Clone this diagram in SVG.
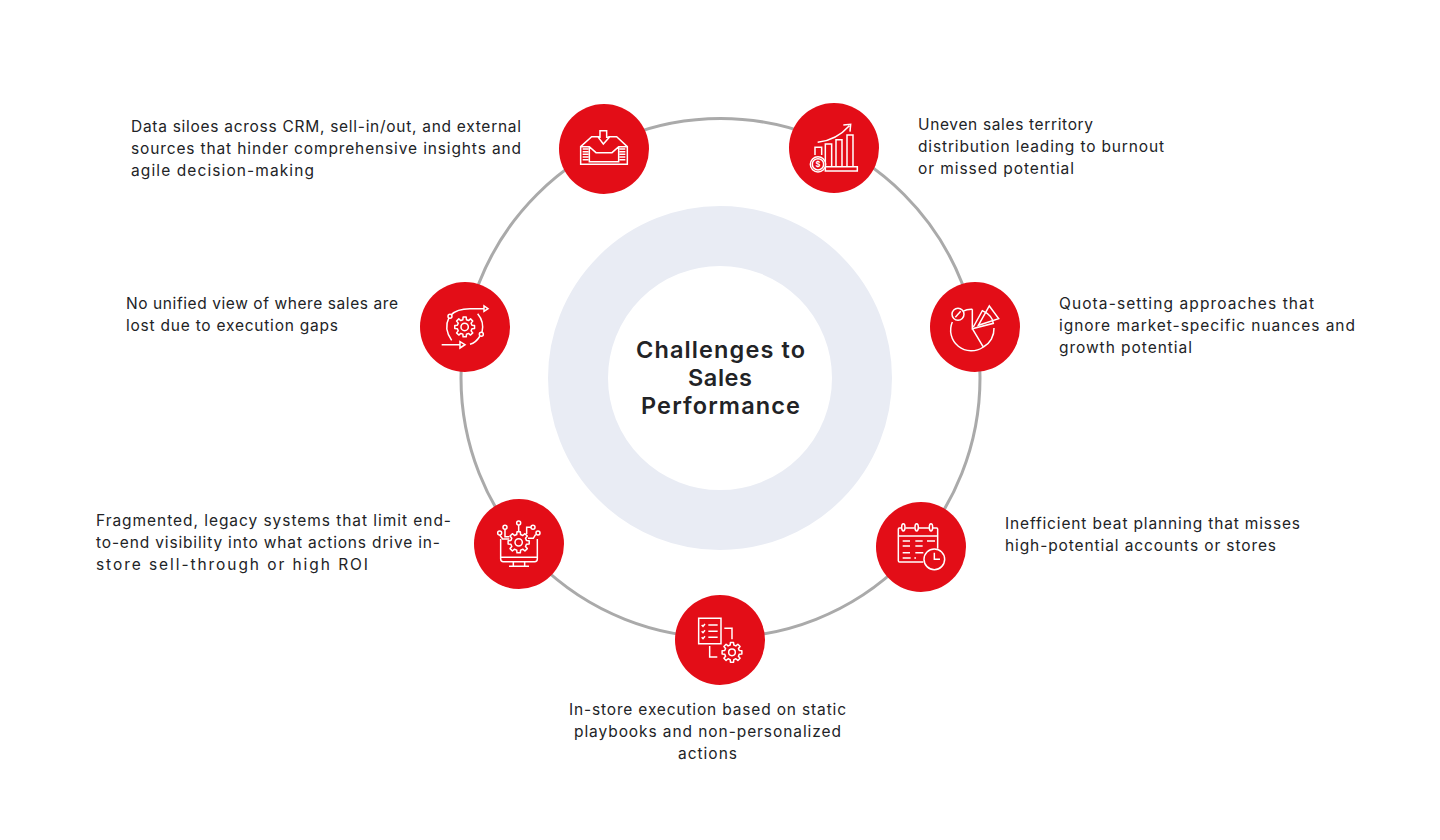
<svg xmlns="http://www.w3.org/2000/svg" xmlns:xlink="http://www.w3.org/1999/xlink" width="1440" height="840" viewBox="0 0 1440 840">
<style>
text{font-family:"Inter","Liberation Sans",sans-serif;font-size:15.5px;fill:#222326;lengthAdjust:spacing}
.t{font-size:23.5px;font-weight:600;text-anchor:middle}
.b{fill:#e30d17}
.i{fill:none;stroke:#fff;stroke-width:1.5;stroke-linecap:butt;stroke-linejoin:miter}
.i *,.g{vector-effect:non-scaling-stroke}
.g{stroke-linejoin:round}
.w{fill:#fff;stroke:none}
.r{fill:#e30d17}
.d{font-weight:700;font-size:13px;fill:#fff;stroke:none;text-anchor:middle}
</style>
<defs>
<path id="gear" class="g" d="M7.28-1.81L9.88-1.56V1.56L7.28 1.81L6.43 3.86L8.09 5.88L5.88 8.09L3.86 6.43L1.81 7.28L1.56 9.88H-1.56L-1.81 7.28L-3.86 6.43L-5.88 8.09L-8.09 5.88L-6.43 3.86L-7.28 1.81L-9.88 1.56V-1.56L-7.28-1.81L-6.43-3.86L-8.09-5.88L-5.88-8.09L-3.86-6.43L-1.81-7.28L-1.56-9.88H1.56L1.81-7.28L3.86-6.43L5.88-8.09L8.09-5.88L6.43-3.86Z"/>
</defs>
<rect width="1440" height="840" fill="#fff"/>
<g id="connectors"><circle cx="720.5" cy="378" r="259.5" fill="none" stroke="#aaaaaa" stroke-width="3"/></g>
<g id="center">
<circle cx="720" cy="378" r="142" fill="none" stroke="#e9ecf4" stroke-width="60"/>
<text class="t" x="720.5" y="358" textLength="169">Challenges to</text>
<text class="t" x="720" y="386" textLength="64">Sales</text>
<text class="t" x="720.5" y="414" textLength="159">Performance</text>
</g>
<g id="node-data-siloes">
<circle class="b" cx="604" cy="149" r="45"/>
<g class="i" transform="translate(550 95) scale(.3333)">
<path d="M92 155L125 125H148M175 125H200L232 155V208H92V155H118L138 173H186L206 155H232M118 155V200H206V155M150 107H170V127H178L160 147L145 127H150Z"/>
<path d="M98 162H116M98 170H116M98 178H116M98 186H116M98 194H116M208 162H226M208 170H226M208 178H226M208 186H226M208 194H226"/>
</g>
<text x="131" y="132" textLength="390">Data siloes across CRM, sell-in/out, and external</text>
<text x="131" y="154" textLength="390">sources that hinder comprehensive insights and</text>
<text x="131" y="176" textLength="183">agile decision-making</text>
</g>
<g id="node-territory">
<circle class="b" cx="834" cy="148" r="45"/>
<g class="i" transform="translate(780 95) scale(.3333)">
<path d="M136 215H232V228H136ZM136 215V147H155V215M168 215V134H186V215M201 215V120H219V215M105 180V157H125V180"/>
<path d="M113 142Q170 135 208 92M190 90L212 88L210 110"/>
<circle cx="114" cy="208" r="23" class="r"/><circle cx="114" cy="208" r="17"/>
<text class="d" transform="translate(114 216) scale(3)" x="0" y="0" style="font-size:7.5px">$</text>
</g>
<text x="918" y="130" textLength="175">Uneven sales territory</text>
<text x="918" y="152" textLength="246">distribution leading to burnout</text>
<text x="918" y="174" textLength="156">or missed potential</text>
</g>
<g id="node-quota">
<circle class="b" cx="975" cy="327" r="45"/>
<g class="i" transform="translate(920 272) scale(.3333)">
<path d="M157 112V170L220 154Q217 130 187 116L160 165M157 112A60 60 0 0 0 128 118M97 150A62 62 0 0 0 190 225L157 170M190 225A62 62 0 0 0 222 168"/>
<path d="M208 102L236 140L175 160Z"/>
<circle cx="114" cy="127" r="18"/><path d="M106 136L122 118"/>
</g>
<text x="1059" y="309" textLength="255">Quota-setting approaches that</text>
<text x="1059" y="331" textLength="296">ignore market-specific nuances and</text>
<text x="1059" y="353" textLength="133">growth potential</text>
</g>
<g id="node-beat">
<circle class="b" cx="921" cy="547" r="45"/>
<g class="i" transform="translate(866 492) scale(.3333)">
<path d="M106 108H100Q97 108 97 112V206Q97 210 101 210H172M118 108H146M158 108H189M201 108H212Q215 108 215 112V170M97 132H215"/>
<ellipse cx="112" cy="106" rx="5" ry="11"/><ellipse cx="152" cy="106" rx="5" ry="11"/><ellipse cx="195" cy="106" rx="5" ry="11"/>
<path d="M110 147H132M148 147H170M183 147H207M110 162H132M148 162H170M110 182H132M148 182H172M110 198H134M145 198H150"/>
<circle cx="205" cy="202" r="31" class="r"/><path d="M205 182V202H222"/>
</g>
<text x="1005" y="529" textLength="295">Inefficient beat planning that misses</text>
<text x="1005" y="551" textLength="271">high-potential accounts or stores</text>
</g>
<g id="node-execution">
<circle class="b" cx="720" cy="640" r="45"/>
<g class="i" transform="translate(665 585) scale(.3333)">
<rect x="101" y="100" width="67" height="76"/>
<path d="M110 120L114 124L120 117M130 120H158M110 139L114 143L120 136M130 139H158M110 157L114 161L120 154M130 157H158M178 130H201V163M134 183V216H157"/>
<use xlink:href="#gear" href="#gear" transform="translate(201 202) scale(3)"/>
<circle cx="201" cy="202" r="10"/>
</g>
<text x="569" y="715" textLength="277">In-store execution based on static</text>
<text x="574" y="737" textLength="267">playbooks and non-personalized</text>
<text x="678" y="759" textLength="59">actions</text>
</g>
<g id="node-legacy">
<circle class="b" cx="519" cy="544" r="45"/>
<g class="i" transform="translate(464 489) scale(.3333)">
<path d="M110 150V210Q110 218 118 218H212Q220 218 220 210V150M110 205H220M148 218V232M182 218V232M135 232H195"/>
<path d="M164 108V128M123 121V143H136M201 115H188V135M107 138L116 150H136M215 136L208 148H192"/>
<use xlink:href="#gear" href="#gear" class="r" transform="translate(164 160) scale(3.2)" fill="#e30d17"/>
<circle cx="164" cy="160" r="11"/>
<circle cx="107" cy="132" r="6"/><circle cx="123" cy="115" r="6"/><circle cx="164" cy="102" r="6"/><circle cx="207" cy="115" r="6"/><circle cx="222" cy="132" r="6"/>
</g>
<text x="96" y="526" textLength="355">Fragmented, legacy systems that limit end-</text>
<text x="96" y="548" textLength="344">to-end visibility into what actions drive in-</text>
<text x="96" y="570" textLength="272">store sell-through or high ROI</text>
</g>
<g id="node-unified">
<circle class="b" cx="465" cy="327" r="45"/>
<g class="i" transform="translate(410 272) scale(.3333)">
<path d="M125 205Q100 170 117 137M123 129Q140 110 180 110H222M222 102L234 110L222 118ZM203 125Q224 150 216 181M210 192Q198 212 180 217M95 218H150M150 209L165 218L150 228Z"/>
<circle cx="120" cy="133" r="6"/><circle cx="214" cy="187" r="6"/>
<use xlink:href="#gear" href="#gear" transform="translate(164 165) scale(3)"/>
<circle cx="164" cy="165" r="11"/>
</g>
<text x="126" y="309" textLength="272">No unified view of where sales are</text>
<text x="126" y="331" textLength="212">lost due to execution gaps</text>
</g>
</svg>
